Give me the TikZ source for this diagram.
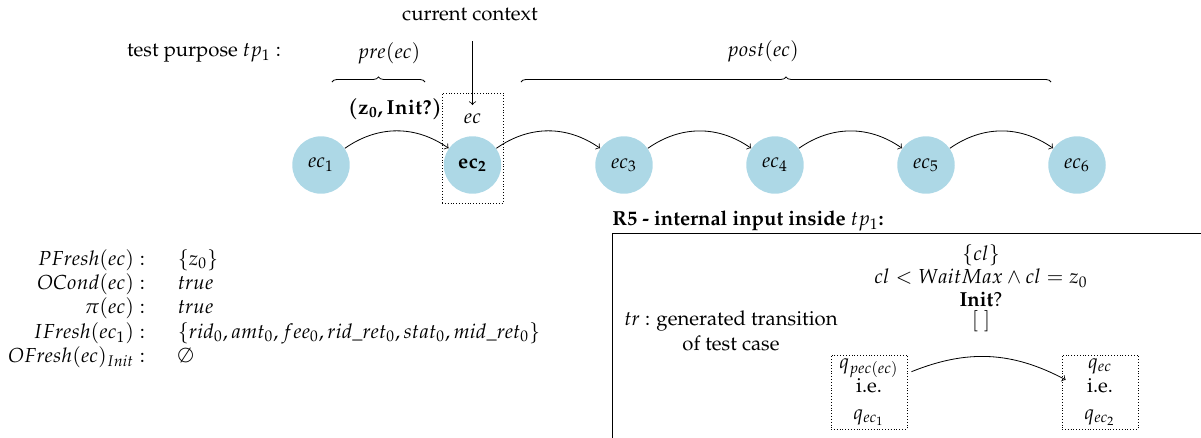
\documentclass[tikz,border=0pt]{standalone}
\usepackage[T1]{fontenc}
\usepackage{mathpazo}
\usetikzlibrary{decorations.pathreplacing}
\definecolor{lb}{RGB}{173,216,230}
\newcommand{\zlabel}{{\mathversion{bold}$\mathbf{(z_0, Init?)}$}}
\begin{document}
\begin{tikzpicture}[x=0.4925pt,y=-0.4925pt,
  ecnode/.style={circle,fill=lb,minimum size=28.3pt,inner sep=0pt},
  trans/.style={->,bend left=35},
  brc/.style={decorate,decoration={brace,amplitude=2.5pt}},
  dotbox/.style={draw,densely dotted,inner sep=0pt},
  txt/.style={inner sep=0pt}]
\useasboundingbox (0,0) rectangle (1201,437);
\clip (0,0) rectangle (1201,437);

% top labels
\node[txt] (cc) at (470,15) {current context};
\node[txt] (tpl) at (204,53) {test purpose $tp_1$ :};
\node[txt] (pre) at (389,53) {$pre(ec)$};
\node[txt] (post) at (763,51) {$post(ec)$};
\coordinate (preA) at (332,82);
\coordinate (preB) at (425,82);
\coordinate (postA) at (521,82);
\coordinate (postB) at (1051,82);
\draw[brc] (preA) -- (preB);
\draw[brc] (postA) -- (postB);

% context box
\node[dotbox,minimum width=30pt,minimum height=54.2pt] (ctx) at (472.5,148) {};
\node[txt] (ecl) at (472.5,119) {$ec$};
\coordinate (ccs) at (472.5,41);
\coordinate (cce) at (472.5,105);
\draw[->] (ccs) -- (cce);

% chain
\node[ecnode] (e1) at (321,165) {$ec_1$};
\node[ecnode] (e2) at (472.5,165) {$\mathbf{ec_2}$};
\node[ecnode] (e3) at (624,165) {$ec_3$};
\node[ecnode] (e4) at (775,165) {$ec_4$};
\node[ecnode] (e5) at (926,165) {$ec_5$};
\node[ecnode] (e6) at (1077,165) {$ec_6$};
\draw[trans] (e1) to (e2);
\draw[trans] (e2) to (e3);
\draw[trans] (e3) to (e4);
\draw[trans] (e4) to (e5);
\draw[trans] (e5) to (e6);
\node[txt] (lab) at (395,109) {\zlabel};

% left block
\node[txt,anchor=west] (blk) at (8,309) {%
\begin{tabular}{@{}r@{\hspace{16pt}}l@{}}
$PFresh(ec):$ & $\{z_0\}$\\
$OCond(ec):$ & $true$\\
$\pi(ec):$ & $true$\\
$IFresh(ec_1):$ & $\{rid_0, amt_0, fee_0, rid\_ret_0, stat_0, mid\_ret_0\}$\\
$OFresh(ec)_{Init}:$ & $\emptyset$
\end{tabular}};

% right block
\node[txt,anchor=west] (r5) at (612,221) {\textbf{R5 - internal input inside $tp_1$:}};
\coordinate (boxA) at (612,233);
\coordinate (boxB) at (1230,460);
\draw (boxA) rectangle (boxB);
\node[txt] (g1) at (981,255) {$\{cl\}$};
\node[txt] (g2) at (981,278) {$cl < WaitMax \wedge cl = z_0$};
\node[txt] (g3) at (981,299) {\textbf{Init}?};
\node[txt] (g4) at (981,321) {$[\;]$};
\node[txt,align=center] (tr) at (731,331) {$tr$ : generated transition\\ of test case};
\node[dotbox,minimum width=37.4pt,minimum height=36.5pt,align=center] (lq) at (869,392)
  {$q_{pec(ec)}$\\ i.e.\\[1pt] $q_{ec_1}$};
\node[dotbox,minimum width=37.4pt,minimum height=36.5pt,align=center] (rq) at (1100,392)
  {$q_{ec}$\\ i.e.\\[1pt] $q_{ec_2}$};
\draw[->] ([shift={(2pt,10pt)}]lq.east) to[bend left=25] ([shift={(2pt,6pt)}]rq.west);
\end{tikzpicture}
\end{document}
